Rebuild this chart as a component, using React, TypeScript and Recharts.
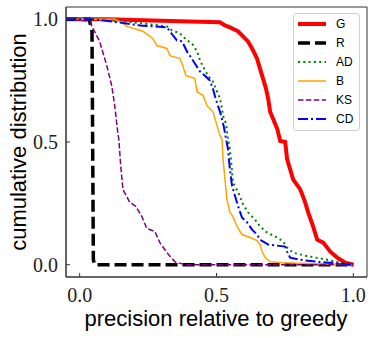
import { LineChart, Line, XAxis, YAxis, Legend, ReferenceArea, Label } from "recharts";

const X_TICKS = [0, 0.5, 1];
const Y_TICKS = [0, 0.5, 1];

const G_X = [-0.05, 0.1, 0.366, 0.513, 0.531, 0.549, 0.579, 0.597, 0.615, 0.63, 0.648, 0.659, 0.67, 0.681, 0.689, 0.696, 0.707, 0.722, 0.733, 0.751, 0.758, 0.78, 0.806, 0.824, 0.835, 0.853, 0.868, 0.89, 0.916, 0.941, 0.971, 1.0];
const G_Y = [1, 1, 0.992, 0.988, 0.975, 0.967, 0.951, 0.93, 0.91, 0.881, 0.84, 0.799, 0.758, 0.717, 0.676, 0.623, 0.594, 0.553, 0.504, 0.5, 0.43, 0.348, 0.307, 0.254, 0.213, 0.156, 0.102, 0.09, 0.053, 0.029, 0.008, 0];

const R_X = [-0.05, 0.035, 0.045, 0.05, 0.055, 1.0];
const R_Y = [1, 1, 0.95, 0.02, 0, 0];

const AD_X = [-0.05, 0.1, 0.22, 0.319, 0.337, 0.366, 0.392, 0.41, 0.429, 0.44, 0.451, 0.469, 0.487, 0.502, 0.513, 0.52, 0.524, 0.535, 0.542, 0.549, 0.557, 0.56, 0.579, 0.597, 0.615, 0.641, 0.659, 0.685, 0.722, 0.744, 0.758, 0.78, 0.824, 0.905, 0.952, 1.0];
const AD_Y = [1, 0.998, 0.984, 0.971, 0.955, 0.943, 0.914, 0.902, 0.869, 0.832, 0.807, 0.77, 0.746, 0.705, 0.676, 0.635, 0.607, 0.574, 0.512, 0.471, 0.377, 0.336, 0.295, 0.246, 0.213, 0.184, 0.156, 0.131, 0.111, 0.094, 0.07, 0.049, 0.037, 0.02, 0.008, 0];

const B_X = [-0.05, 0.128, 0.158, 0.172, 0.231, 0.267, 0.282, 0.319, 0.33, 0.366, 0.377, 0.388, 0.403, 0.421, 0.429, 0.451, 0.465, 0.487, 0.498, 0.513, 0.52, 0.524, 0.531, 0.538, 0.549, 0.56, 0.575, 0.593, 0.623, 0.648, 0.659, 0.667, 0.678, 0.696, 0.744, 1.0];
const B_Y = [1, 1, 0.984, 0.971, 0.951, 0.922, 0.893, 0.881, 0.852, 0.84, 0.811, 0.77, 0.766, 0.758, 0.705, 0.689, 0.648, 0.623, 0.582, 0.525, 0.512, 0.43, 0.348, 0.266, 0.213, 0.197, 0.156, 0.123, 0.111, 0.098, 0.082, 0.053, 0.029, 0.012, 0.008, 0];

const KS_X = [-0.05, 0.037, 0.048, 0.073, 0.099, 0.117, 0.128, 0.139, 0.143, 0.15, 0.158, 0.183, 0.205, 0.227, 0.245, 0.275, 0.293, 0.319, 0.348, 0.385, 1.0];
const KS_Y = [1, 0.992, 0.963, 0.91, 0.811, 0.73, 0.648, 0.541, 0.512, 0.402, 0.307, 0.254, 0.238, 0.197, 0.148, 0.135, 0.09, 0.049, 0.012, 0, 0];

const CD_X = [-0.05, 0.05, 0.11, 0.22, 0.319, 0.341, 0.355, 0.374, 0.392, 0.414, 0.44, 0.458, 0.476, 0.487, 0.495, 0.505, 0.513, 0.52, 0.527, 0.535, 0.542, 0.549, 0.557, 0.568, 0.579, 0.593, 0.612, 0.63, 0.648, 0.659, 0.689, 0.751, 0.758, 0.769, 0.806, 0.868, 1.0];
const CD_Y = [1, 1, 0.992, 0.975, 0.967, 0.934, 0.914, 0.91, 0.869, 0.832, 0.787, 0.77, 0.75, 0.717, 0.684, 0.648, 0.623, 0.594, 0.561, 0.512, 0.471, 0.389, 0.32, 0.279, 0.238, 0.193, 0.172, 0.143, 0.123, 0.102, 0.082, 0.074, 0.053, 0.029, 0.02, 0.012, 0];

const toPts = (xs: number[], ys: number[]) => xs.map((x, i) => ({ x, y: ys[i] }));

const SERIES = [
  { name: "G", xs: G_X, ys: G_Y, color: "#ff0000", width: 4, dash: undefined },
  { name: "R", xs: R_X, ys: R_Y, color: "#000000", width: 3.5, dash: "12 5" },
  { name: "AD", xs: AD_X, ys: AD_Y, color: "#008000", width: 2, dash: "2 3.3" },
  { name: "B", xs: B_X, ys: B_Y, color: "#ffa500", width: 1.5, dash: undefined },
  { name: "KS", xs: KS_X, ys: KS_Y, color: "#800080", width: 1.5, dash: "5.5 2.4" },
  { name: "CD", xs: CD_X, ys: CD_Y, color: "#0000ff", width: 2, dash: "10 3 2 3" },
];

const DOMAIN: [number, number] = [-0.05, 1.05];
const AXIS = "#333";
const TICK_FONT = "'Liberation Serif', 'Times New Roman', serif";
const LABEL_FONT = "'Liberation Sans', Arial, sans-serif";

const XTick = (p: any) => (
  <g>
    <line x1={p.x} x2={p.x} y1={p.y} y2={p.y - 4} stroke={AXIS} />
    <text x={p.x} y={p.y + 25} textAnchor="middle" fontFamily={TICK_FONT} fontSize={20} fill="#222">
      {Number(p.payload.value).toFixed(1)}
    </text>
  </g>
);

const YTick = (p: any) => (
  <g>
    <line x1={p.x} x2={p.x + 4} y1={p.y} y2={p.y} stroke={AXIS} />
    <text x={p.x - 8} y={p.y + 7} textAnchor="end" fontFamily={TICK_FONT} fontSize={20} fill="#222">
      {Number(p.payload.value).toFixed(1)}
    </text>
  </g>
);

const LegendBox = () => (
  <div
    style={{
      position: "relative",
      width: 67,
      height: 118,
      boxSizing: "border-box",
      border: "1px solid #d0d0d0",
      borderRadius: 3,
      background: "rgba(255,255,255,0.85)",
      fontFamily: LABEL_FONT,
      fontSize: 12,
      color: "#000",
    }}
  >
    {SERIES.map((s, i) => (
      <div key={s.name} style={{ position: "absolute", left: 3, top: 3 + i * 19, height: 14, display: "flex", alignItems: "center" }}>
        <svg width={30} height={14} style={{ display: "block" }}>
          <line x1={1} x2={29} y1={7} y2={7} stroke={s.color} strokeWidth={s.width} strokeDasharray={s.dash} />
        </svg>
        <span style={{ marginLeft: 9, lineHeight: "14px" }}>{s.name}</span>
      </div>
    ))}
  </div>
);

export default function App() {
  return (
    <div style={{ width: 374, height: 338 }}>
      <style>{`body{margin:0}`}</style>
      <LineChart width={374} height={338} margin={{ top: 7, right: 7, left: 0, bottom: 0 }}>
        <XAxis
          dataKey="x"
          type="number"
          domain={DOMAIN}
          ticks={X_TICKS}
          allowDataOverflow
          height={61}
          stroke={AXIS}
          tickLine={false}
          tickSize={0}
          tickMargin={0}
          tick={<XTick />}
        >
          <Label
            content={() => (
              <text x={216} y={326} textAnchor="middle" fontFamily={LABEL_FONT} fontSize={22} fill="#000">
                precision relative to greedy
              </text>
            )}
          />
        </XAxis>
        <YAxis
          type="number"
          domain={DOMAIN}
          ticks={Y_TICKS}
          allowDataOverflow
          width={66}
          stroke={AXIS}
          tickLine={false}
          tickSize={0}
          tickMargin={0}
          tick={<YTick />}
        >
          <Label
            content={() => (
              <text x={26} y={142} transform="rotate(-90 26 142)" textAnchor="middle" fontFamily={LABEL_FONT} fontSize={22} fill="#000">
                cumulative distribution
              </text>
            )}
          />
        </YAxis>
        <ReferenceArea x1={DOMAIN[0]} x2={DOMAIN[1]} y1={DOMAIN[0]} y2={DOMAIN[1]} fill="none" stroke={AXIS} strokeWidth={1} ifOverflow="visible" />
        {SERIES.map((s) => (
          <Line
            key={s.name}
            name={s.name}
            data={toPts(s.xs, s.ys)}
            dataKey="y"
            type="linear"
            stroke={s.color}
            strokeWidth={s.width}
            strokeDasharray={s.dash}
            dot={false}
            activeDot={false}
            isAnimationActive={false}
          />
        ))}
        <Legend layout="vertical" align="center" verticalAlign="middle" wrapperStyle={{ left: 293, top: 13, width: 67 }} content={<LegendBox />} />
      </LineChart>
    </div>
  );
}
